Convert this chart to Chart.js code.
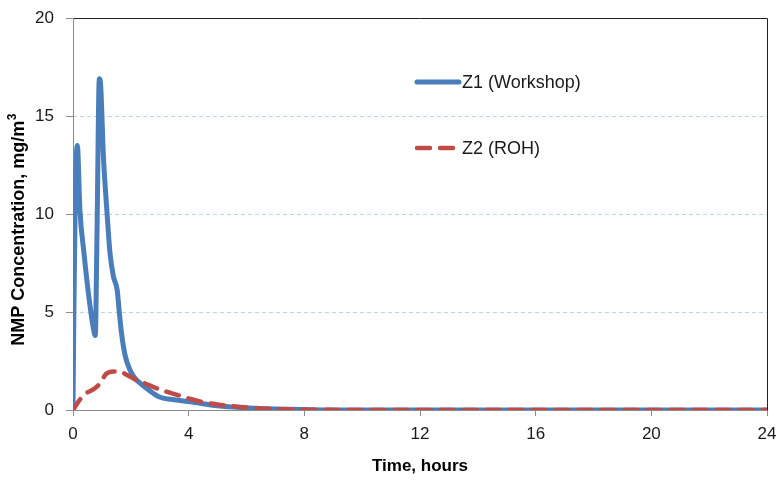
<!DOCTYPE html>
<html><head><meta charset="utf-8">
<script src="https://cdn.jsdelivr.net/npm/chart.js@4"></script>
<style>html,body{margin:0;padding:0;background:#fff}canvas{display:block}</style>
</head><body>
<canvas id="c" width="780" height="482"></canvas>
<script>
const seriesNames = ['Z1 (Workshop)', 'Z2 (ROH)'];
const z1Time = [0, 0.03, 0.08, 0.15, 0.24, 0.38, 0.53, 0.70, 0.77, 0.83, 0.91, 0.96, 1.05, 1.17, 1.28, 1.40, 1.53, 1.60, 1.68, 1.80, 1.97, 2.15, 2.32, 2.55, 3.0, 3.5, 4.05, 5.0, 6.1, 7.0, 8.0, 9.0, 24];
const z1Conc = [0, 5, 11, 13.5, 10.2, 8.0, 6.0, 4.2, 3.8, 9.0, 16.9, 16.5, 13.0, 10.2, 8.0, 6.8, 6.1, 5.0, 3.9, 2.8, 2.04, 1.6, 1.37, 1.1, 0.66, 0.52, 0.42, 0.22, 0.1, 0.05, 0.02, 0, 0];
const z2Time = [0, 0.2, 0.4, 0.7, 0.93, 1.15, 1.4, 1.6, 1.85, 2.1, 2.5, 3.0, 3.6, 4.1, 4.6, 5.1, 5.7, 6.3, 6.8, 7.5, 8.5, 10, 24];
const z2Conc = [0, 0.45, 0.8, 1.05, 1.35, 1.85, 1.97, 1.97, 1.8, 1.6, 1.35, 1.05, 0.77, 0.55, 0.37, 0.26, 0.17, 0.1, 0.06, 0.03, 0.01, 0, 0];
const xTicks = [0, 4, 8, 12, 16, 20, 24];
const yTicks = [0, 5, 10, 15, 20];
const xTitle = 'Time, hours';
const yTitleMain = 'NMP Concentration, mg/m';
const yTitleSup = '3';

const BLUE = '#4A7EBB';
const RED = '#BE4B48';
const AXIS = '#8C8C8C';
const FONT = "'Liberation Sans', Arial, sans-serif";

const toPts = (t, v) => t.map((x, i) => ({x: x, y: v[i]}));

const framePlugin = {
  id: 'frame',
  beforeDatasetsDraw(chart) {
    const a = chart.chartArea, c = chart.ctx;
    const l = Math.round(a.left) + 0.5, r = Math.round(a.right) + 0.5;
    const t = Math.round(a.top) + 0.5, b = Math.round(a.bottom) + 0.5;
    c.save();
    c.lineWidth = 1;
    c.strokeStyle = '#222';
    c.beginPath(); c.moveTo(l, t); c.lineTo(r, t); c.lineTo(r, b); c.stroke();
    c.strokeStyle = AXIS;
    c.beginPath(); c.moveTo(l, t); c.lineTo(l, b); c.lineTo(r, b); c.stroke();
    c.restore();
  }
};

const yTitlePlugin = {
  id: 'ytitle',
  afterDraw(chart) {
    const c = chart.ctx;
    c.save();
    c.translate(19, 230);
    c.rotate(-Math.PI / 2);
    c.fillStyle = '#000';
    c.textBaseline = 'middle';
    c.textAlign = 'left';
    const mainFont = 'bold 18px ' + FONT, supFont = 'bold 12px ' + FONT;
    c.font = mainFont; const w1 = c.measureText(yTitleMain).width;
    c.font = supFont; const w2 = c.measureText(yTitleSup).width;
    const x0 = -(w1 + w2) / 2;
    c.font = mainFont; c.fillText(yTitleMain, x0, 0);
    c.font = supFont; c.fillText(yTitleSup, x0 + w1 + 0.5, -6);
    c.restore();
  }
};

const legendPlugin = {
  id: 'inlegend',
  afterDraw(chart) {
    const c = chart.ctx;
    const items = [
      {ds: chart.data.datasets[1], y: 82},
      {ds: chart.data.datasets[0], y: 148}
    ];
    c.save();
    items.forEach(it => {
      c.beginPath();
      c.strokeStyle = it.ds.borderColor;
      c.lineWidth = it.ds.borderWidth;
      c.lineCap = 'round';
      c.setLineDash(it.ds.borderDash || []);
      c.moveTo(417, it.y); c.lineTo(459, it.y);
      c.stroke();
      c.setLineDash([]);
      c.fillStyle = '#1a1a1a';
      c.font = '18px ' + FONT;
      c.textBaseline = 'middle';
      c.fillText(it.ds.label, 462, it.y + 1);
    });
    c.restore();
  }
};

new Chart(document.getElementById('c'), {
  type: 'line',
  data: {
    datasets: [
      {label: seriesNames[1], data: toPts(z2Time, z2Conc), borderColor: RED, borderWidth: 4.5, borderDash: [13, 10], borderCapStyle: 'round', pointRadius: 0, cubicInterpolationMode: 'monotone', fill: false, order: 0},
      {label: seriesNames[0], data: toPts(z1Time, z1Conc), borderColor: BLUE, borderWidth: 5, borderJoinStyle: 'round', borderCapStyle: 'round', pointRadius: 0, cubicInterpolationMode: 'monotone', fill: false, order: 1}
    ]
  },
  options: {
    responsive: false,
    animation: false,
    devicePixelRatio: 1,
    layout: {padding: {top: 18, right: 13, left: 0, bottom: 0}},
    plugins: {legend: {display: false}, tooltip: {enabled: false}},
    scales: {
      x: {
        type: 'linear', min: 0, max: 24,
        afterBuildTicks: s => { s.ticks = xTicks.map(v => ({value: v})); },
        afterFit: s => { s.height = 72; s.paddingRight = 0; s.paddingLeft = 0; },
        grid: {drawOnChartArea: false, drawTicks: true, tickLength: 6, tickColor: AXIS, tickBorderDash: []},
        border: {display: false},
        ticks: {font: {size: 17, family: FONT}, color: '#1a1a1a', padding: 8, maxRotation: 0, autoSkip: false},
        title: {display: true, text: xTitle, font: {size: 17, weight: 'bold', family: FONT}, color: '#000', padding: {top: 4, bottom: 5}}
      },
      y: {
        type: 'linear', min: 0, max: 20,
        afterBuildTicks: s => { s.ticks = yTicks.map(v => ({value: v})); },
        afterFit: s => { s.width = 73; s.paddingTop = 0; s.paddingBottom = 0; },
        grid: {
          color: ctx => (ctx.tick && ctx.tick.value > 0 && ctx.tick.value < 20) ? '#BCD5E2' : 'rgba(0,0,0,0)',
          lineWidth: 1, tickLength: 7, tickColor: AXIS, tickBorderDash: [], drawTicks: true
        },
        border: {display: false, dash: [4, 3]},
        ticks: {font: {size: 17, family: FONT}, color: '#1a1a1a', padding: 12, autoSkip: false},
        title: {display: false}
      }
    }
  },
  plugins: [framePlugin, legendPlugin, yTitlePlugin]
});
</script>
</body></html>
